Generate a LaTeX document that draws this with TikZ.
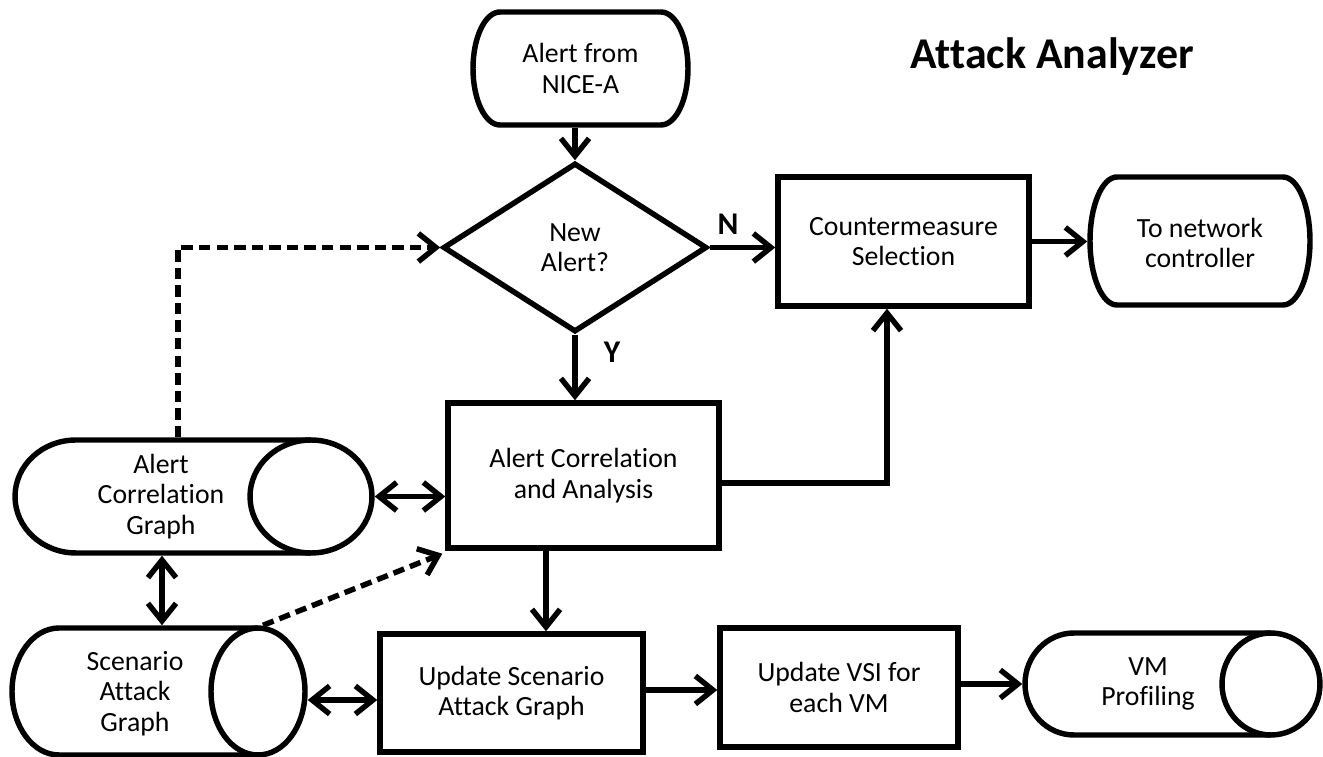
\documentclass[tikz,border=0pt]{standalone}
\usepackage{fontspec}
\setmainfont{Carlito}[Ligatures={NoCommon}]
\usetikzlibrary{arrows.meta,shapes.geometric}
\begin{document}
\begin{tikzpicture}[x=0.02cm,y=-0.02cm,
  line width=3.1pt,
  txt/.style={font=\fontsize{15.8}{17.2}\selectfont, align=center, inner sep=0pt},
  stepbox/.style={draw, rectangle, txt},
  anchorbox/.style={rectangle, draw=none, inner sep=0pt},
  arr/.style={-{Straight Barb[length=10pt,width=16pt]}},
  darr/.style={{Straight Barb[length=10pt,width=16pt]}-{Straight Barb[length=10pt,width=16pt]}},
  dashline/.style={dash pattern=on 6.5pt off 3.5pt},
  lbl/.style={font=\fontsize{18}{20}\selectfont\bfseries, inner sep=0pt}
]
\useasboundingbox (0,0) rectangle (1323,757);

% title
\node[font=\fontsize{25}{30}\selectfont\bfseries, anchor=base, inner sep=0pt] (title) at (1052,69) {Attack Analyzer};

% terminal: Alert from NICE-A
\node[anchorbox, minimum width=4.3cm, minimum height=2.26cm, txt] (alert) at (580.5,68.5) {Alert from\\NICE-A};
\draw (500,12) -- (661,12) arc[start angle=90,end angle=-90,x radius=0.54cm,y radius=1.13cm]
  -- (500,125) arc[start angle=270,end angle=90,x radius=0.54cm,y radius=1.13cm] -- cycle;

% decision
\node[draw, diamond, aspect=1.56, minimum width=5.28cm, minimum height=3.38cm, txt] (dec) at (575,247.5) {New\\Alert?};

% countermeasure
\node[stepbox, minimum width=5.02cm, minimum height=2.58cm] (cms) at (903.5,241.5) {Countermeasure\\Selection};

% terminal: network controller
\node[anchorbox, minimum width=4.4cm, minimum height=2.56cm, txt] (net) at (1200,243) {To network\\controller};
\draw (1117,177) -- (1283,177) arc[start angle=90,end angle=-90,x radius=0.54cm,y radius=1.28cm]
  -- (1117,305) arc[start angle=270,end angle=90,x radius=0.54cm,y radius=1.28cm] -- cycle;

% alert correlation and analysis
\node[stepbox, minimum width=5.42cm, minimum height=2.9cm] (aca) at (583.5,475.5) {Alert Correlation\\and Analysis};

% update scenario attack graph
\node[stepbox, minimum width=5.26cm, minimum height=2.36cm] (usag) at (511.5,693) {Update Scenario\\Attack Graph};

% update VSI
\node[stepbox, minimum width=4.76cm, minimum height=2.38cm] (vsi) at (839,687.5) {Update VSI for\\each VM};

% cylinder: alert correlation graph
\node[anchorbox, minimum width=7.14cm, minimum height=2.26cm] (acg) at (193.5,496.5) {};
\draw (311,440) -- (76,440) arc[start angle=90,end angle=270,x radius=1.22cm,y radius=1.13cm] -- (311,553);
\draw (311,496.5) ellipse[x radius=1.22cm,y radius=1.13cm];
\node[txt] (acgt) at (161,496.5) {Alert\\Correlation\\Graph};

% cylinder: scenario attack graph
\node[anchorbox, minimum width=5.86cm, minimum height=2.54cm] (sag) at (158.5,691.5) {};
\draw (258,628) -- (59,628) arc[start angle=90,end angle=270,x radius=0.94cm,y radius=1.27cm] -- (258,755);
\draw (258,691.5) ellipse[x radius=0.94cm,y radius=1.27cm];
\node[txt] (sagt) at (135,693.5) {Scenario\\Attack\\Graph};

% cylinder: VM profiling
\node[anchorbox, minimum width=5.9cm, minimum height=2.04cm] (vm) at (1172.5,684) {};
\draw (1271,633) -- (1074,633) arc[start angle=90,end angle=270,x radius=0.98cm,y radius=1.02cm] -- (1271,735);
\draw (1271,684) ellipse[x radius=0.98cm,y radius=1.02cm];
\node[txt] (vmt) at (1148,684) {VM\\Profiling};

% labels
\node[lbl, anchor=base] (nlab) at (728,235) {N};
\node[lbl, anchor=base] (ylab) at (612,362) {Y};

% connectors
\draw[arr] (alert.south -| dec.north) -- (dec.north);
\draw[arr] (dec.east) -- (cms.west |- dec.east);
\draw[arr] (cms.east) -- (net.west |- cms.east);
\draw[arr] (dec.south) -- (aca.north -| dec.south);
\draw[arr] ([yshift=-0.15cm]aca.east) -| ([xshift=-0.33cm]cms.south);
\draw[arr] ([xshift=-0.75cm]aca.south) coordinate (t1) -- (t1 |- usag.north);
\draw[arr] ([yshift=0.06cm]usag.east) coordinate (t2) -- (t2 -| vsi.west);
\draw[arr] (vsi.east |- vm.west) -- (vm.west);
\draw[darr] (acg.east) -- (acg.east -| aca.west);
\draw[darr] ([xshift=-0.63cm]acg.south) coordinate (t3) -- (t3 |- sag.north);
\draw[darr] ([yshift=-0.17cm]sag.east) coordinate (t4) -- (t4 -| usag.west);
\draw[arr, dashline] ([xshift=-0.31cm]acg.north) |- (dec.west);
\draw[arr, dashline] ([xshift=2.09cm]sag.north) -- ([shift={(-0.06cm,-0.06cm)}]aca.south west);
\end{tikzpicture}
\end{document}
